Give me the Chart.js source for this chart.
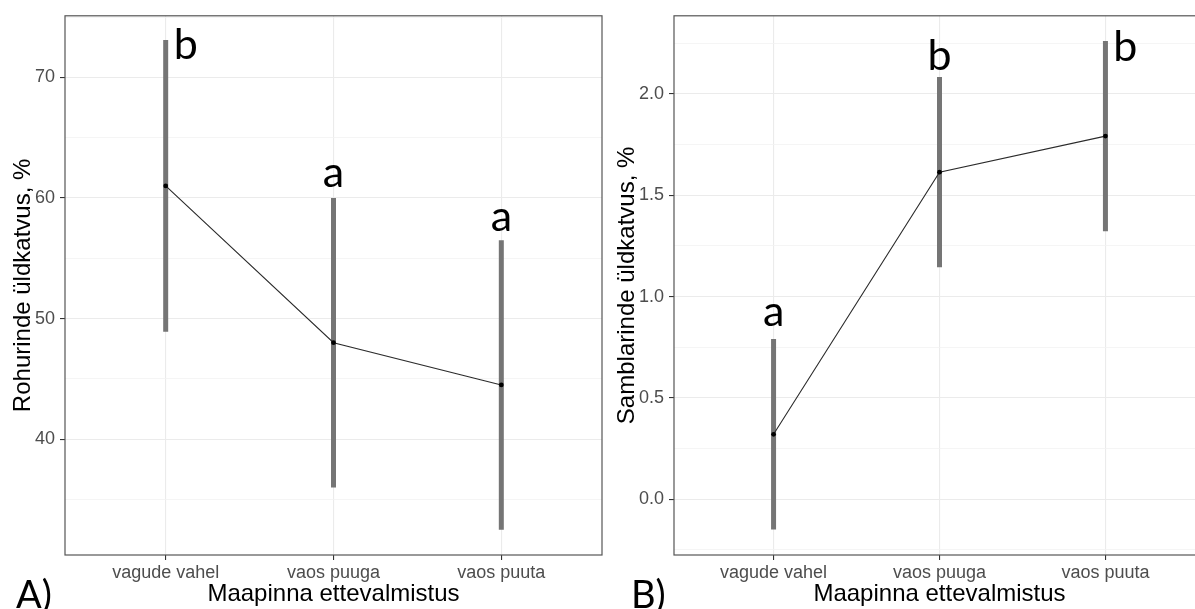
<!DOCTYPE html>
<html>
<head>
<meta charset="utf-8">
<script src="https://cdn.jsdelivr.net/npm/chart.js@4.4.1/dist/chart.umd.min.js"></script>
<style>
    html, body { margin: 0; padding: 0; background: #fff; }
    body { position: relative; width: 1195px; height: 609px; overflow: hidden; }
    .panel { position: absolute; top: 0; height: 609px; }
    #wrapA { left: 0; width: 610px; }
    #wrapB { left: 610px; width: 605px; }
    .tag { position: absolute; font-family: Lato, sans-serif; font-size: 38px; color: #000; line-height: 1; }
</style>
</head>
<body>
<div id="wrapA" class="panel"><canvas id="chartA" width="610" height="609"></canvas></div>
<div id="wrapB" class="panel"><canvas id="chartB" width="605" height="609"></canvas></div>
<div class="tag" style="left:16px; top:574px;">A)</div>
<div class="tag" style="left:631px; top:574px;">B)</div>
<script>
// shared x categories
var categories = ['vagude vahel', 'vaos puuga', 'vaos puuta'];

// A) Rohurinde üldkatvus
var meansA = [61.0, 48.0, 44.5];
var errA = [12.1, 12.0, 12.0];
var lettersA = ['b', 'a', 'a'];
var letterXA = [1.12, 2.0, 3.0];
var letterYA = [71.5, 60.9, 57.3];

// B) Samblarinde üldkatvus
var meansB = [0.32, 1.614, 1.792];
var errB = [0.47, 0.47, 0.47];
var lettersB = ['a', 'b', 'b'];
var letterXB = [1.0, 2.0, 3.12];
var letterYB = [0.853, 2.12, 2.165];

Chart.defaults.font.family = "'Liberation Sans', Arial, sans-serif";

var framePlugin = {
    id: 'frame',
    afterDraw(chart) {
        var a = chart.chartArea, ctx = chart.ctx;
        ctx.save();
        ctx.strokeStyle = '#555';
        ctx.lineWidth = 1.2;
        ctx.strokeRect(a.left, a.top, a.right - a.left, a.bottom - a.top);
        ctx.restore();
    }
};

var lettersPlugin = {
    id: 'letters',
    afterDatasetsDraw(chart, args, opts) {
        var ctx = chart.ctx, xs = chart.scales.x, ys = chart.scales.y;
        ctx.save();
        ctx.font = '43px Lato, sans-serif';
        ctx.fillStyle = '#000';
        ctx.textAlign = 'center';
        ctx.textBaseline = 'alphabetic';
        opts.letters.forEach((l, i) => {
            ctx.fillText(l, xs.getPixelForValue(opts.x[i]), ys.getPixelForValue(opts.y[i]));
        });
        ctx.restore();
    }
};

function makeChart(id, cfg) {
    var datasets = [{
        data: cfg.means.map((m, i) => ({ x: i + 1, y: m })),
        borderColor: '#2b2b2b',
        borderWidth: 1.1,
        pointRadius: 2.4,
        pointBackgroundColor: '#000',
        pointBorderWidth: 0
    }];
    cfg.means.forEach((m, i) => {
        datasets.push({
            data: [{ x: i + 1, y: m - cfg.err[i] }, { x: i + 1, y: m + cfg.err[i] }],
            borderColor: '#757575',
            borderWidth: 5,
            borderCapStyle: 'butt',
            pointRadius: 0
        });
    });

    var isMajor = cfg.isMajor;

    return new Chart(document.getElementById(id), {
        type: 'line',
        data: { datasets: datasets },
        plugins: [framePlugin, lettersPlugin],
        options: {
            responsive: false,
            animation: false,
            layout: { padding: { top: 15, right: cfg.padRight, left: 0, bottom: 0 } },
            plugins: {
                legend: { display: false },
                tooltip: { enabled: false },
                letters: { letters: cfg.letters, x: cfg.letterX, y: cfg.letterY }
            },
            scales: {
                x: {
                    type: 'linear',
                    min: 0.4,
                    max: 3.6,
                    afterBuildTicks: s => { s.ticks = categories.map((c, i) => ({ value: i + 1 })); },
                    afterFit: s => { s.height = 54; },
                    border: { display: false },
                    grid: { color: '#ebebeb', lineWidth: 1.1, tickColor: '#333', tickLength: 5 },
                    ticks: {
                        callback: v => categories[Math.round(v) - 1],
                        color: '#4d4d4d',
                        font: { size: 18 },
                        padding: 2,
                        maxRotation: 0,
                        autoSkip: false
                    },
                    title: {
                        display: true,
                        text: 'Maapinna ettevalmistus',
                        color: '#000',
                        font: { size: 24 },
                        padding: { top: 0, bottom: 0 }
                    }
                },
                y: {
                    type: 'linear',
                    min: cfg.yMin,
                    max: cfg.yMax,
                    afterFit: s => { s.width = cfg.yWidth; },
                    border: { display: false },
                    grid: {
                        color: c => isMajor(c.tick.value) ? '#ebebeb' : '#f3f3f3',
                        lineWidth: c => isMajor(c.tick.value) ? 1.1 : 0.8,
                        tickColor: c => isMajor(c.tick.value) ? '#333' : 'rgba(0,0,0,0)',
                        tickLength: 5
                    },
                    ticks: {
                        stepSize: cfg.step,
                        includeBounds: false,
                        callback: v => isMajor(v) ? cfg.fmt(v) : '',
                        color: '#4d4d4d',
                        font: { size: 18 },
                        padding: 5
                    },
                    title: {
                        display: true,
                        text: cfg.yTitle,
                        color: '#000',
                        font: { size: 24 },
                        padding: { top: cfg.titlePad, bottom: 0 }
                    }
                }
            }
        }
    });
}

makeChart('chartA', {
    means: meansA, err: errA,
    letters: lettersA, letterX: letterXA, letterY: letterYA,
    yMin: 30.4, yMax: 75.1, step: 5,
    isMajor: v => Math.abs(v % 10) < 1e-6,
    fmt: v => String(v),
    yTitle: 'Rohurinde üldkatvus, %',
    yWidth: 65, padRight: 8, titlePad: 9
});

makeChart('chartB', {
    means: meansB, err: errB,
    letters: lettersB, letterX: letterXB, letterY: letterYB,
    yMin: -0.276, yMax: 2.386, step: 0.25,
    isMajor: v => Math.abs(v * 2 - Math.round(v * 2)) < 1e-6,
    fmt: v => v.toFixed(1),
    yTitle: 'Samblarinde üldkatvus, %',
    yWidth: 64, padRight: 10, titlePad: 3
});
</script>
</body>
</html>
